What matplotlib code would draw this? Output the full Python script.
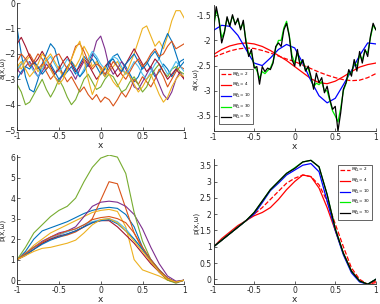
import numpy as np
import matplotlib
matplotlib.use("Agg")
import matplotlib.pyplot as plt

# matlab default colour order
cols = ['#0072BD', '#D95319', '#EDB120', '#7E2F8E', '#77AC30',
        '#4DBEEE', '#A2142F', '#0072BD', '#D95319', '#EDB120']

# top left: realisations a(x, w), x = -1:0.05:1
x_a = np.linspace(-1, 1, 41)
a_real = [
    [-1.0,-2.0,-2.9,-3.4,-3.5,-3.0,-2.4,-2.0,-1.6,-1.8,-2.4,-2.9,-2.7,-2.5,-2.8,-2.4,-2.1,-2.3,-2.0,-2.2,-2.6,-2.9,-2.4,-2.1,-2.0,-2.3,-2.5,-2.8,-3.1,-2.9,-2.5,-2.3,-2.6,-2.9,-2.7,-2.4,-2.6,-2.9,-2.6,-2.3,-2.2],
    [-2.7,-2.4,-2.2,-2.0,-2.3,-2.6,-2.4,-2.7,-3.0,-2.8,-2.5,-2.8,-3.1,-2.9,-3.2,-3.5,-3.3,-3.6,-3.8,-3.6,-3.9,-3.7,-3.8,-4.05,-3.8,-3.5,-3.7,-3.4,-3.0,-3.2,-2.9,-3.1,-3.3,-3.0,-2.6,-2.9,-3.3,-3.0,-2.7,-2.5,-2.6],
    [-2.4,-2.6,-2.3,-2.1,-2.4,-2.7,-2.5,-2.2,-2.0,-2.3,-2.6,-2.9,-2.6,-2.3,-2.5,-2.2,-1.7,-2.0,-2.5,-2.3,-2.6,-2.9,-2.7,-2.5,-2.3,-2.6,-2.8,-2.4,-2.0,-1.5,-1.0,-0.9,-1.3,-1.7,-1.5,-1.8,-1.3,-0.7,-0.3,-0.3,-0.6],
    [-2.6,-2.8,-2.5,-2.3,-2.6,-2.9,-2.7,-2.4,-2.6,-2.9,-3.1,-2.8,-2.5,-2.7,-3.0,-2.6,-2.3,-2.5,-2.1,-1.5,-1.3,-1.8,-2.5,-2.8,-2.6,-2.3,-2.6,-2.9,-3.3,-3.4,-3.1,-2.8,-2.5,-2.8,-3.2,-3.6,-3.8,-3.5,-3.0,-2.7,-3.0],
    [-3.2,-3.5,-4.0,-3.9,-3.6,-3.3,-3.0,-3.4,-3.7,-3.4,-3.0,-3.3,-3.7,-4.0,-3.8,-3.4,-3.0,-2.8,-3.1,-3.4,-3.3,-3.0,-2.8,-2.9,-3.2,-3.5,-3.4,-3.1,-2.9,-3.2,-3.5,-3.3,-2.9,-2.6,-2.4,-2.7,-2.9,-2.6,-2.5,-2.7,-2.8],
    [-2.6,-2.4,-2.2,-2.4,-2.7,-2.9,-2.6,-2.3,-2.1,-2.4,-2.7,-2.5,-2.2,-2.4,-2.7,-2.9,-2.6,-2.2,-1.9,-2.1,-2.4,-2.6,-2.3,-2.1,-2.2,-2.5,-2.8,-2.6,-2.3,-2.5,-2.8,-3.0,-2.7,-2.4,-2.2,-2.5,-2.8,-2.6,-2.3,-2.5,-2.7],
    [-1.6,-1.35,-1.7,-2.1,-2.4,-2.2,-1.9,-2.2,-2.5,-2.8,-2.6,-2.3,-2.1,-2.4,-2.7,-2.5,-2.2,-2.4,-2.7,-3.0,-2.8,-2.5,-2.3,-2.6,-2.9,-2.7,-2.4,-2.1,-1.8,-2.1,-2.4,-2.7,-2.5,-2.2,-2.4,-2.7,-3.0,-2.8,-2.6,-2.8,-3.0],
    [-3.0,-2.7,-2.5,-2.6,-2.3,-2.5,-2.8,-2.6,-2.4,-2.7,-3.0,-2.8,-2.5,-2.3,-2.6,-2.9,-2.7,-2.4,-2.2,-2.5,-2.8,-2.6,-2.3,-2.2,-2.5,-2.7,-2.4,-2.2,-2.0,-2.3,-2.6,-2.4,-2.1,-1.9,-2.2,-1.6,-1.2,-1.5,-2.0,-2.5,-2.3],
    [-2.3,-2.0,-2.2,-2.5,-2.3,-2.0,-2.2,-2.6,-2.4,-2.1,-2.0,-2.3,-2.6,-2.2,-1.7,-1.6,-1.9,-2.3,-2.6,-2.4,-2.5,-2.8,-2.6,-2.3,-2.5,-2.8,-3.0,-2.7,-2.4,-2.2,-2.5,-2.3,-2.0,-1.8,-2.1,-2.0,-1.7,-1.5,-1.8,-1.7,-1.6],
    [-2.5,-2.3,-2.6,-2.9,-2.7,-2.4,-2.0,-2.2,-2.6,-2.9,-3.2,-3.0,-2.6,-2.2,-1.8,-1.5,-2.2,-3.0,-3.6,-3.2,-2.7,-2.5,-2.8,-3.1,-3.3,-3.0,-2.7,-2.9,-3.2,-3.5,-3.3,-3.0,-2.8,-3.2,-3.6,-3.9,-3.7,-3.3,-3.0,-2.8,-2.9],
]

# bottom left: solutions p(x, w), x = -1:0.1:1
x_p = np.linspace(-1, 1, 21)
p_real = [
    [1.0,1.4,2.0,2.4,2.55,2.7,2.85,3.05,3.25,3.4,3.5,3.55,3.5,3.2,2.6,1.6,0.9,0.4,0.05,-0.1,0.0],
    [1.0,1.3,1.6,1.8,2.0,2.1,2.2,2.35,2.6,3.0,3.9,4.8,4.7,3.5,2.3,1.5,0.9,0.4,0.0,-0.1,0.0],
    [1.0,1.3,1.7,2.0,2.3,2.5,2.7,2.9,3.1,3.3,3.4,3.45,3.35,2.6,1.0,0.5,0.35,0.2,0.0,-0.1,0.0],
    [1.0,1.3,1.6,1.9,2.1,2.3,2.4,2.6,3.1,3.6,3.8,3.85,3.8,3.6,3.2,2.5,1.6,0.8,0.2,-0.05,0.0],
    [1.0,1.6,2.3,2.7,3.1,3.4,3.6,4.0,4.8,5.5,5.95,6.1,6.0,5.2,3.3,1.9,1.0,0.4,0.0,-0.15,0.0],
    [1.0,1.3,1.6,1.85,2.05,2.2,2.35,2.5,2.7,2.85,2.95,3.0,2.85,2.5,2.0,1.5,1.0,0.5,0.1,-0.1,0.0],
    [1.0,1.2,1.5,1.8,2.0,2.15,2.25,2.4,2.6,2.8,2.9,2.9,2.6,2.2,1.8,1.3,0.8,0.4,0.05,-0.1,0.0],
    [1.0,1.25,1.5,1.75,1.95,2.1,2.25,2.4,2.6,2.8,2.9,2.95,2.75,2.4,2.0,1.5,1.0,0.5,0.1,-0.1,0.0],
    [1.0,1.3,1.6,1.85,2.1,2.25,2.4,2.5,2.7,2.95,3.05,3.1,3.0,2.8,2.3,1.6,1.0,0.5,0.1,-0.1,0.0],
    [1.0,1.2,1.4,1.55,1.6,1.7,1.8,1.95,2.3,2.7,2.95,3.0,2.8,2.4,1.9,1.4,0.9,0.4,0.05,-0.1,0.0],
]

# top right: KL truncations of one realisation
kl_labels = [r'$M^a_{KL}=2$', r'$M^a_{KL}=4$', r'$M^a_{KL}=10$',
             r'$M^a_{KL}=30$', r'$M^a_{KL}=70$']
x_kl = np.linspace(-1, 1, 21)
a_m2 = [-2.33,-2.27,-2.21,-2.17,-2.15,-2.16,-2.2,-2.25,-2.31,-2.37,-2.42,-2.49,-2.56,-2.63,-2.69,-2.74,-2.78,-2.8,-2.79,-2.74,-2.66]
a_m4 = [-2.28,-2.18,-2.11,-2.07,-2.05,-2.07,-2.12,-2.2,-2.3,-2.4,-2.52,-2.64,-2.76,-2.84,-2.86,-2.81,-2.72,-2.62,-2.53,-2.48,-2.45]
a_m10 = [-1.8,-1.7,-1.72,-1.9,-2.18,-2.45,-2.5,-2.35,-2.18,-2.08,-2.15,-2.45,-2.8,-3.1,-3.24,-3.15,-2.88,-2.6,-2.3,-2.05,-2.07]
x_fine = np.linspace(-1, 1, 61)
a_m70 = [-1.72,-1.33,-1.6,-2.05,-1.85,-1.53,-1.72,-1.49,-1.69,-1.56,-1.79,-1.6,-2.05,-2.32,-2.18,-2.55,-2.52,-2.87,-2.52,-2.62,
         -2.55,-2.58,-2.45,-2.12,-2.05,-2.12,-1.79,-1.66,-1.92,-2.38,-2.51,-2.18,-2.51,-2.38,-2.61,-2.51,-2.71,-2.97,-2.65,-2.84,
         -2.74,-3.04,-2.91,-3.17,-3.37,-3.31,-3.8,-3.44,-2.97,-2.84,-2.58,-2.71,-2.38,-2.61,-2.22,-2.45,-2.18,-2.32,-1.92,-1.66,-1.79]
a_m30 = [-1.75,-1.4,-1.58,-1.95,-1.83,-1.56,-1.7,-1.52,-1.66,-1.6,-1.76,-1.65,-2.0,-2.28,-2.25,-2.5,-2.6,-2.75,-2.62,-2.66,
         -2.6,-2.55,-2.42,-2.15,-2.0,-2.0,-1.75,-1.62,-1.9,-2.3,-2.45,-2.25,-2.45,-2.4,-2.58,-2.55,-2.75,-2.92,-2.85,-2.88,
         -2.82,-3.0,-3.0,-3.2,-3.4,-3.5,-3.62,-3.35,-3.0,-2.85,-2.65,-2.65,-2.45,-2.5,-2.3,-2.38,-2.2,-2.25,-1.95,-1.7,-1.78]

# bottom right: corresponding solutions
p_m2 = [1.0,1.2,1.4,1.6,1.8,2.0,2.2,2.45,2.7,2.95,3.1,3.2,3.15,2.9,2.4,1.7,1.0,0.35,0.0,-0.15,-0.1]
p_m4 = [1.0,1.25,1.45,1.65,1.8,1.95,2.05,2.2,2.45,2.75,3.0,3.2,3.15,2.8,2.2,1.5,0.8,0.25,-0.05,-0.15,-0.05]
p_m10 = [1.0,1.2,1.4,1.6,1.8,2.0,2.35,2.72,2.95,3.2,3.35,3.5,3.55,3.3,2.4,1.5,0.75,0.2,-0.08,-0.15,0.0]
p_m30 = [1.0,1.2,1.4,1.6,1.8,2.05,2.4,2.75,3.0,3.25,3.42,3.6,3.65,3.45,2.6,1.55,0.8,0.25,-0.05,-0.15,0.0]
p_m70 = [1.0,1.2,1.4,1.6,1.8,2.05,2.4,2.75,3.0,3.25,3.4,3.6,3.65,3.45,2.6,1.55,0.8,0.25,-0.05,-0.15,0.0]

kl_cols = ['r', 'r', 'b', '#00ee00', 'k']
kl_ls = ['--', '-', '-', '-', '-']

grey = '#262626'
plt.rcParams['font.family'] = 'DejaVu Sans'
plt.rcParams['font.size'] = 6

fig = plt.figure(figsize=(3.8, 3.04), dpi=100)
ax_tl = fig.add_axes([0.045, 0.572, 0.440, 0.418])
ax_tr = fig.add_axes([0.562, 0.569, 0.427, 0.414])
ax_bl = fig.add_axes([0.045, 0.065, 0.440, 0.425])
ax_br = fig.add_axes([0.562, 0.065, 0.427, 0.413])

for i, a in enumerate(a_real):
    ax_tl.plot(x_a, a, color=cols[i], lw=0.8)
for i, p in enumerate(p_real):
    ax_bl.plot(x_p, p, color=cols[i], lw=0.8)

tr_series = [(x_kl, a_m2), (x_kl, a_m4), (x_kl, a_m10), (x_fine, a_m30), (x_fine, a_m70)]
for (xx, yy), c, ls, lab in zip(tr_series, kl_cols, kl_ls, kl_labels):
    ax_tr.plot(xx, yy, color=c, ls=ls, lw=0.9, label=lab)
br_series = [p_m2, p_m4, p_m10, p_m30, p_m70]
for yy, c, ls, lab in zip(br_series, kl_cols, kl_ls, kl_labels):
    ax_br.plot(x_kl, yy, color=c, ls=ls, lw=0.9, label=lab)

ax_tl.set_ylim(-5, 0)
ax_tl.set_yticks([0, -1, -2, -3, -4, -5])
ax_tr.set_ylim(-3.8, -1.3)
ax_tr.set_yticks([-1.5, -2, -2.5, -3, -3.5])
ax_tr.set_yticklabels(['-1.5', '-2', '-2.5', '-3', '-3.5'])
ax_bl.set_ylim(-0.2, 6.1)
ax_bl.set_yticks([0, 1, 2, 3, 4, 5, 6])
ax_br.set_ylim(-0.15, 3.7)
ax_br.set_yticks([0, 0.5, 1, 1.5, 2, 2.5, 3, 3.5])
ax_br.set_yticklabels(['0', '0.5', '1', '1.5', '2', '2.5', '3', '3.5'])

for ax in [ax_tl, ax_tr, ax_bl, ax_br]:
    ax.set_xlim(-1, 1)
    ax.set_xticks([-1, -0.5, 0, 0.5, 1])
    ax.set_xticklabels(['-1', '-0.5', '0', '0.5', '1'])
    ax.spines['top'].set_visible(False)
    ax.spines['right'].set_visible(False)
    for s in ['left', 'bottom']:
        ax.spines[s].set_color(grey)
        ax.spines[s].set_linewidth(0.6)
    ax.tick_params(direction='in', length=2, width=0.5, colors=grey,
                   labelsize=5.5, pad=1.5)
    ax.set_xlabel('x', color=grey, fontsize=6.5, labelpad=0)

ax_tl.set_ylabel('a(x,ω)', color=grey, fontsize=5)
ax_tr.set_ylabel('a(x,ω)', color=grey, fontsize=5)
ax_bl.set_ylabel('p(x,ω)', color=grey, fontsize=5)
ax_br.set_ylabel('p(x,ω)', color=grey, fontsize=5)
ax_tl.yaxis.set_label_coords(-0.068, 0.49)
ax_tr.yaxis.set_label_coords(-0.095, 0.41)
ax_bl.yaxis.set_label_coords(-0.068, 0.42)
ax_br.yaxis.set_label_coords(-0.09, 0.49)

leg_kw = dict(fontsize=3.0, handlelength=2.4, handletextpad=0.4, labelspacing=0.35,
              borderpad=0.4, fancybox=False, edgecolor=grey, framealpha=1)
l1 = ax_tr.legend(loc='lower left', bbox_to_anchor=(0.02, 0.04), **leg_kw)
l2 = ax_br.legend(loc='upper right', bbox_to_anchor=(0.99, 0.97), **leg_kw)
for l in (l1, l2):
    l.get_frame().set_linewidth(0.5)

fig.savefig('out.png', dpi=100)
